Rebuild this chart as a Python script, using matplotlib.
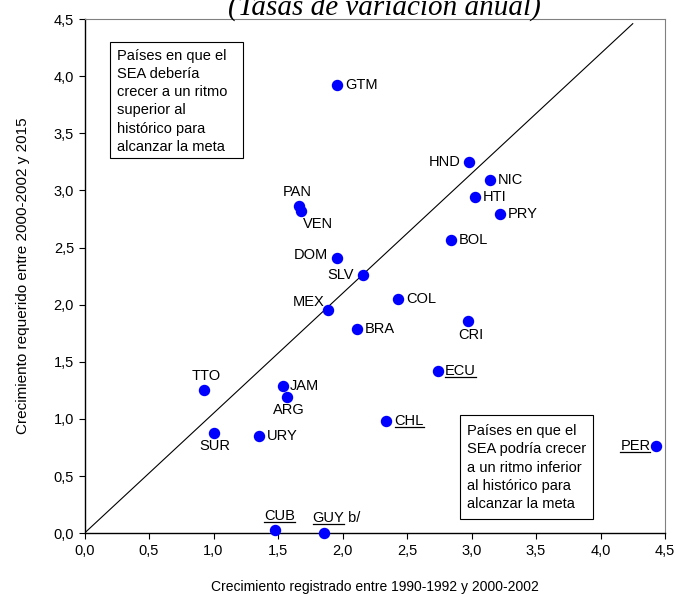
import matplotlib.pyplot as plt
from matplotlib.patches import Rectangle
from matplotlib.lines import Line2D

plt.rcParams['font.family'] = ['Liberation Sans', 'DejaVu Sans']

# Datos: crecimiento registrado (x) y requerido (y)
paises = ['GTM', 'HND', 'NIC', 'HTI', 'PRY', 'BOL', 'PAN', 'VEN', 'DOM', 'SLV',
          'COL', 'MEX', 'CRI', 'BRA', 'ECU', 'TTO', 'JAM', 'ARG', 'CHL', 'SUR',
          'URY', 'PER', 'CUB', 'GUY']
registrado = [1.96, 2.98, 3.14, 3.03, 3.22, 2.84, 1.66, 1.68, 1.96, 2.16,
              2.43, 1.89, 2.97, 2.11, 2.74, 0.93, 1.54, 1.57, 2.34, 1.00,
              1.35, 4.43, 1.48, 1.86]
requerido = [3.92, 3.25, 3.09, 2.94, 2.79, 2.57, 2.86, 2.82, 2.41, 2.26,
             2.05, 1.95, 1.86, 1.79, 1.42, 1.25, 1.29, 1.19, 0.985, 0.875,
             0.85, 0.76, 0.03, 0.0]
subrayados = ['ECU', 'CHL', 'PER', 'CUB', 'GUY']

# Linea de referencia
linea_x = [0, 4.25]
linea_y = [0, 4.46]

ticks = [0, 0.5, 1.0, 1.5, 2.0, 2.5, 3.0, 3.5, 4.0, 4.5]
tick_labels = ['0,0', '0,5', '1,0', '1,5', '2,0', '2,5', '3,0', '3,5', '4,0', '4,5']

# Posicion de las etiquetas (offset en puntos, ha, va)
pos = {
    'GTM': (6, 0, 'left', 'center'), 'HND': (-6, 0, 'right', 'center'),
    'NIC': (6, 0, 'left', 'center'), 'HTI': (5, 0, 'left', 'center'),
    'PRY': (6, 0, 'left', 'center'), 'BOL': (6, 0, 'left', 'center'),
    'PAN': (-1, 5, 'center', 'bottom'), 'VEN': (1, -4, 'left', 'top'),
    'DOM': (-7, 2, 'right', 'center'), 'SLV': (-7, 0, 'right', 'center'),
    'COL': (6, 0, 'left', 'center'), 'MEX': (-3, 6, 'right', 'center'),
    'CRI': (2, -5, 'center', 'top'), 'BRA': (6, 0, 'left', 'center'),
    'ECU': (5, 0, 'left', 'center'), 'TTO': (1, 5, 'center', 'bottom'),
    'JAM': (5, 0, 'left', 'center'), 'ARG': (1, -4, 'center', 'top'),
    'CHL': (6, 0, 'left', 'center'), 'SUR': (1, -4, 'center', 'top'),
    'URY': (6, 0, 'left', 'center'), 'PER': (-4, 0, 'right', 'center'),
    'CUB': (3, 5, 'center', 'bottom'), 'GUY': (3, 6, 'center', 'bottom'),
}

fig = plt.figure(figsize=(6.75, 5.97), dpi=100)
ax = fig.add_axes([0.1252, 0.107, 0.86, 0.861])

ax.plot(linea_x, linea_y, color='black', lw=0.8, zorder=1)
ax.scatter(registrado, requerido, s=52, color='#0000ff', zorder=3, clip_on=False)

etiquetas = {}
for p, x, y in zip(paises, registrado, requerido):
    dx, dy, ha, va = pos[p]
    etiquetas[p] = ax.annotate(p, (x, y), xytext=(dx, dy), textcoords='offset points',
                               ha=ha, va=va, fontsize=10.5, zorder=4, annotation_clip=False)
ax.annotate(' b/', (1.0, 0.5), xycoords=etiquetas['GUY'], ha='left', va='center',
            fontsize=10.5)

ax.set_xlim(0, 4.5)
ax.set_ylim(0, 4.5)
ax.set_xticks(ticks)
ax.set_xticklabels(tick_labels)
ax.set_yticks(ticks)
ax.set_yticklabels(tick_labels)
ax.tick_params(direction='out', length=4, width=0.8, labelsize=10.5)
for s in ['top', 'right']:
    ax.spines[s].set_color('#808080')
for s in ['left', 'bottom']:
    ax.spines[s].set_linewidth(1.0)

ax.set_xlabel('Crecimiento registrado entre 1990-1992 y 2000-2002', fontsize=10, labelpad=16)
ax.set_ylabel('Crecimiento requerido entre 2000-2002 y 2015', fontsize=11, labelpad=17)

# Cuadros de texto
ax.add_patch(Rectangle((0.044, 0.730), 0.229, 0.225, transform=ax.transAxes,
                       fill=False, ec='black', lw=0.8, zorder=2))
ax.text(0.056, 0.942, 'Países en que el\nSEA debería\ncrecer a un ritmo\nsuperior al\nhistórico para\nalcanzar la meta',
        transform=ax.transAxes, ha='left', va='top', fontsize=10.5, linespacing=1.38)
ax.add_patch(Rectangle((0.647, 0.027), 0.229, 0.203, transform=ax.transAxes,
                       fill=False, ec='black', lw=0.8, zorder=2))
ax.text(0.659, 0.212, 'Países en que el\nSEA podría crecer\na un ritmo inferior\nal histórico para\nalcanzar la meta',
        transform=ax.transAxes, ha='left', va='top', fontsize=10.5, linespacing=1.38)

fig.text(0.57, 0.976, '(Tasas de variación anual)', ha='center', va='baseline',
         fontsize=21, style='italic', family=['Liberation Serif', 'DejaVu Serif'])

# Subrayado de etiquetas
fig.canvas.draw()
r = fig.canvas.get_renderer()
inv = fig.transFigure.inverted()
for p in subrayados:
    bb = etiquetas[p].get_window_extent(r)
    (x0, y0), (x1, _) = inv.transform([(bb.x0, bb.y0 + 1), (bb.x1, bb.y0)])
    fig.add_artist(Line2D([x0, x1], [y0, y0], color='black', lw=0.9, transform=fig.transFigure))

fig.savefig('out.png', dpi=100)
